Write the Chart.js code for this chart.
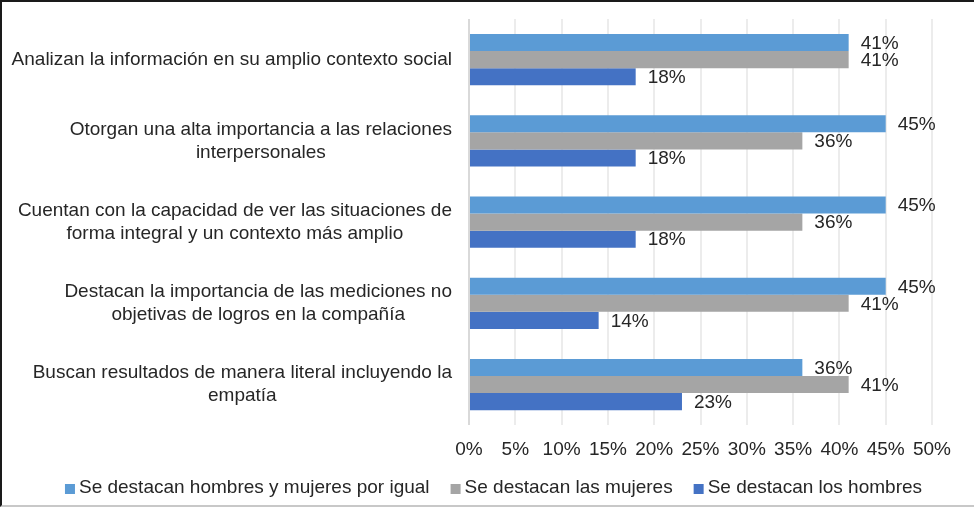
<!DOCTYPE html>
<html>
<head>
<meta charset="utf-8">
<script src="https://cdn.jsdelivr.net/npm/chart.js@4.4.1/dist/chart.umd.min.js"></script>
<style>
    html, body { margin: 0; padding: 0; background: #fff; }
    #wrap { position: relative; width: 974px; height: 507px; }
    #frame {
        position: absolute; left: 0; top: 0; right: 0; bottom: 0;
        border-top: 2px solid #1a1a1a;
        border-left: 2px solid #1a1a1a;
        border-bottom: 2px solid #c8c8c8;
        pointer-events: none;
    }
</style>
</head>
<body>
<div id="wrap">
    <canvas id="chart" width="974" height="507"></canvas>
    <div id="frame"></div>
</div>
<script>
// Datos del gráfico
const categorias = [
    ['Analizan la información en su amplio contexto social'],
    ['Otorgan una alta importancia a las relaciones', 'interpersonales'],
    ['Cuentan con la capacidad de ver las situaciones de', 'forma integral y un contexto más amplio'],
    ['Destacan la importancia de las mediciones no', 'objetivas de logros en la compañía'],
    ['Buscan resultados de manera literal incluyendo la', 'empatía']
];
const serieIgual = [41, 45, 45, 45, 36];
const serieMujeres = [41, 36, 36, 41, 41];
const serieHombres = [18, 18, 18, 14, 23];
const ticksX = [0, 5, 10, 15, 20, 25, 30, 35, 40, 45, 50];

const FONT = '"Liberation Sans", Arial, sans-serif';
const TXT = '#262626';
const SIZE = 19;

Chart.defaults.font.family = FONT;
Chart.defaults.font.size = SIZE;
Chart.defaults.color = TXT;

// Etiquetas de categorías: bloque alineado a la derecha, líneas centradas
const etiquetasY = {
    id: 'etiquetasY',
    afterDraw(chart) {
        const ctx = chart.ctx;
        const y = chart.scales.y;
        const right = 452;
        const lh = 23;
        ctx.save();
        ctx.font = SIZE + 'px ' + FONT;
        ctx.fillStyle = TXT;
        ctx.textAlign = 'center';
        ctx.textBaseline = 'middle';
        categorias.forEach((lines, i) => {
            const cy = y.getPixelForTick(i);
            const w = Math.max(...lines.map(l => ctx.measureText(l).width));
            const cx = right - w / 2;
            const y0 = cy - (lines.length - 1) * lh / 2;
            lines.forEach((l, k) => ctx.fillText(l, cx, y0 + k * lh));
        });
        ctx.restore();
    }
};

// Etiquetas de valores al final de cada barra
const etiquetasValor = {
    id: 'etiquetasValor',
    afterDatasetsDraw(chart) {
        const ctx = chart.ctx;
        ctx.save();
        ctx.font = SIZE + 'px ' + FONT;
        ctx.fillStyle = TXT;
        ctx.textAlign = 'left';
        ctx.textBaseline = 'middle';
        chart.data.datasets.forEach((ds, di) => {
            chart.getDatasetMeta(di).data.forEach((bar, i) => {
                ctx.fillText(ds.data[i] + '%', bar.x + 12, bar.y + 1);
            });
        });
        ctx.restore();
    }
};

// Leyenda inferior (cuadro 10px, separación estilo Excel)
const leyenda = {
    id: 'leyenda',
    afterDraw(chart) {
        const ctx = chart.ctx;
        const ds = chart.data.datasets;
        const cy = 488, box = 10, gap = 4, sep = 21;
        ctx.save();
        ctx.font = SIZE + 'px ' + FONT;
        ctx.textBaseline = 'middle';
        ctx.textAlign = 'left';
        const widths = ds.map(d => ctx.measureText(d.label).width);
        const total = widths.reduce((a, w) => a + box + gap + w, 0) + sep * (ds.length - 1);
        let x = 493.5 - total / 2;
        ds.forEach((d, i) => {
            ctx.fillStyle = d.backgroundColor;
            ctx.fillRect(x, cy - box / 2 + 1, box, box);
            ctx.fillStyle = TXT;
            ctx.fillText(d.label, x + box + gap, cy);
            x += box + gap + widths[i] + sep;
        });
        ctx.restore();
    }
};

new Chart(document.getElementById('chart'), {
    type: 'bar',
    data: {
        labels: categorias.map(c => c.join(' ')),
        datasets: [
            { label: 'Se destacan hombres y mujeres por igual', data: serieIgual, backgroundColor: '#5b9bd5' },
            { label: 'Se destacan las mujeres', data: serieMujeres, backgroundColor: '#a5a5a5' },
            { label: 'Se destacan los hombres', data: serieHombres, backgroundColor: '#4472c4' }
        ]
    },
    options: {
        indexAxis: 'y',
        responsive: false,
        animation: false,
        layout: { padding: { top: 19, right: 42, bottom: 33, left: 0 } },
        datasets: {
            bar: { barPercentage: 1, categoryPercentage: 0.63, borderWidth: 0 }
        },
        scales: {
            x: {
                min: 0,
                max: 50,
                afterBuildTicks(scale) {
                    scale.ticks = ticksX.map(v => ({ value: v }));
                },
                ticks: {
                    padding: 13,
                    color: TXT,
                    callback: v => v + '%'
                },
                grid: {
                    drawTicks: false,
                    color: ctx => ctx.index === 0 ? '#d9d9d9' : '#ececec',
                    lineWidth: 2
                },
                border: { display: false }
            },
            y: {
                ticks: { display: false },
                grid: { display: false },
                border: { display: false },
                afterFit(scale) { scale.width = 469; }
            }
        },
        plugins: {
            legend: { display: false },
            tooltip: { enabled: false }
        }
    },
    plugins: [etiquetasY, etiquetasValor, leyenda]
});
</script>
</body>
</html>
